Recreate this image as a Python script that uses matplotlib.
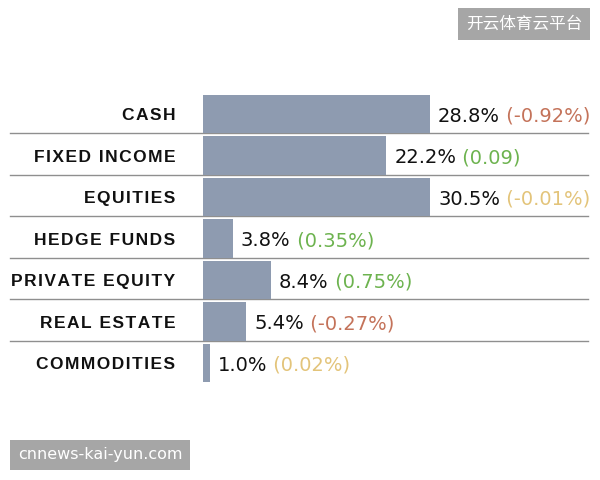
import matplotlib.pyplot as plt

# asset allocation rows, top to bottom
categories = ["CASH", "FIXED INCOME", "EQUITIES", "HEDGE FUNDS",
              "PRIVATE EQUITY", "REAL ESTATE", "COMMODITIES"]
# bar lengths as drawn in the picture (percent units)
bar_sizes = [30.5, 24.6, 30.5, 4.0, 9.1, 5.8, 0.9]
value_labels = ["28.8%", "22.2%", "30.5%", "3.8%", "8.4%", "5.4%", "1.0%"]
change_labels = ["(-0.92%)", "(0.09)", "(-0.01%)", "(0.35%)",
                 "(0.75%)", "(-0.27%)", "(0.02%)"]
change_kind = ["down", "up", "flat", "up", "up", "down", "flat"]

COLORS = {"down": "#c4735a", "up": "#6db34f", "flat": "#e3c47a"}
BAR_COLOR = "#8e9bb0"

fig = plt.figure(figsize=(6, 4.8), dpi=100)
# axes from x=203px to right edge, y 85px..400px
ax = fig.add_axes([203 / 600, 1 - 400 / 480, 397 / 600, 315 / 480])
ax.set_xlim(0, 397 / 7.44)
ax.set_ylim(6.89, -0.699)
ax.axis("off")

rows = list(range(len(categories)))
ax.barh(rows, bar_sizes, height=0.93, color=BAR_COLOR, zorder=2)

# separators under each row
for i in rows[:-1]:
    ax.plot([-193 / 7.44, 385 / 7.44], [i + 0.46, i + 0.46], color="#8f8f8f",
            lw=1.0, clip_on=False, zorder=1)

for i, name in enumerate(categories):
    # letter-spaced caps (hair spaces)
    spaced = "\u200a".join(name)
    ax.text(-28 / 7.44, i + 0.04, spaced, ha="right", va="center", fontsize=12.5,
            fontweight="bold", family=["Liberation Sans", "DejaVu Sans"],
            color="#111111")
    t = ax.text(bar_sizes[i] + 1.1, i + 0.05, value_labels[i], ha="left",
                va="center", fontsize=14, family="DejaVu Sans", color="#111111")
    ax.annotate(" " + change_labels[i], xy=(1, 0.5), xycoords=t, ha="left",
                va="center", fontsize=14, family="DejaVu Sans",
                color=COLORS[change_kind[i]])

# watermarks
fig.text(524 / 600, 1 - 24 / 480, "开云体育云平台", ha="center", va="center",
         fontsize=12, color="white", family=["Noto Sans CJK SC", "DejaVu Sans"],
         bbox=dict(boxstyle="square,pad=0.45", fc="#a6a6a6", ec="none"))
fig.text(100 / 600, 1 - 455 / 480, "cnnews-kai-yun.com", ha="center",
         va="center", fontsize=11.5, color="white", family="DejaVu Sans",
         bbox=dict(boxstyle="square,pad=0.5", fc="#a6a6a6", ec="none"))

fig.savefig("out.png", dpi=100, facecolor="white")
